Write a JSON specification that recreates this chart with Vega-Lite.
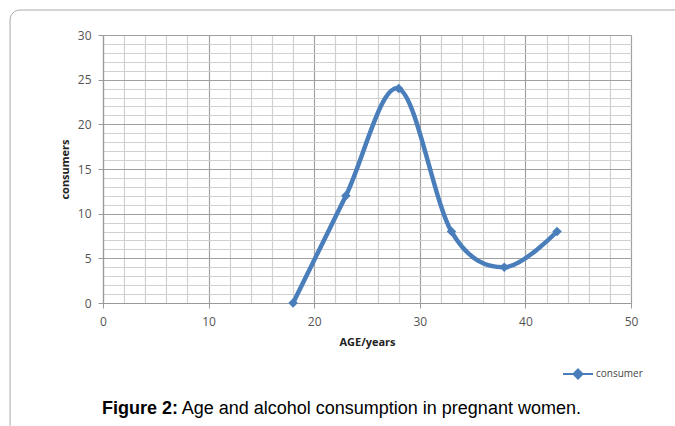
{
  "$schema": "https://vega.github.io/schema/vega-lite/v6.json",
  "autosize": {"type": "none"},
  "width": 528,
  "height": 268,
  "padding": {"left": 103, "top": 35, "right": 44, "bottom": 123},
  "background": "white",
  "config": {"view": {"stroke": null}, "font": "Open Sans"},
  "layer": [
    {
      "data": {"values": [{"frame": 1}]},
      "mark": {"type": "rect", "fill": null, "stroke": "#aaaaaa", "strokeWidth": 1, "cornerRadius": 10, "clip": false},
      "encoding": {
        "x": {"datum": -8.8, "type": "quantitative"},
        "x2": {"datum": 56},
        "y": {"datum": 32.8, "type": "quantitative"},
        "y2": {"datum": -16}
      }
    },
    {
      "data": {"name": "main", "values": [
        {"age": 18, "consumers": 0, "series": "consumer"},
        {"age": 23, "consumers": 12, "series": "consumer"},
        {"age": 28, "consumers": 24, "series": "consumer"},
        {"age": 33, "consumers": 8, "series": "consumer"},
        {"age": 38, "consumers": 4, "series": "consumer"},
        {"age": 43, "consumers": 8, "series": "consumer"}
      ]},
      "layer": [
        {
          "mark": {"type": "line", "interpolate": "cardinal", "tension": 0, "strokeWidth": 4.5, "clip": false},
          "encoding": {
            "x": {"field": "age", "type": "quantitative",
              "scale": {"domain": [0, 50], "nice": false},
              "axis": {
                "title": "AGE/years", "titleFontSize": 11, "titleFontWeight": "bold", "titleColor": "#222", "titlePadding": 9,
                "values": [0,2,4,6,8,10,12,14,16,18,20,22,24,26,28,30,32,34,36,38,40,42,44,46,48,50],
                "tickCount": 200, "format": "d", "labelFlush": false,
                "labelExpr": "datum.value % 10 === 0 ? datum.label : ''",
                "labelFontSize": 12, "labelColor": "#555", "labelPadding": 8,
                "grid": true,
                "gridColor": {"condition": {"test": "datum.value % 10 === 0", "value": "#a0a0a0"}, "value": "#d0d0d0"},
                "gridWidth": 1.2,
                "tickSize": {"condition": {"test": "datum.value % 10 === 0", "value": 5}, "value": 0},
                "tickColor": "#999",
                "domainColor": "#999", "domainWidth": 1.2
              }
            },
            "y": {"field": "consumers", "type": "quantitative",
              "scale": {"domain": [0, 30], "nice": false},
              "axis": {
                "title": "consumers", "titleFontSize": 11, "titleFontWeight": "bold", "titleColor": "#222", "titlePadding": 7,
                "values": [0,1,2,3,4,5,6,7,8,9,10,11,12,13,14,15,16,17,18,19,20,21,22,23,24,25,26,27,28,29,30],
                "tickCount": 200, "format": "d", "labelFlush": false,
                "labelExpr": "datum.value % 5 === 0 ? datum.label : ''",
                "labelFontSize": 12, "labelColor": "#555", "labelPadding": 7,
                "grid": true,
                "gridColor": {"condition": {"test": "datum.value % 5 === 0", "value": "#a0a0a0"}, "value": "#d0d0d0"},
                "gridWidth": 1.2,
                "tickSize": {"condition": {"test": "datum.value % 5 === 0", "value": 5}, "value": 0},
                "tickColor": "#999",
                "domainColor": "#999", "domainWidth": 1.2
              }
            },
            "color": {"field": "series", "type": "nominal",
              "scale": {"range": ["#4A7EBB"]},
              "legend": {
                "title": null, "orient": "none", "legendX": 459, "legendY": 323,
                "symbolType": "M-1,0L1,0M0,-0.3L0.3,0L0,0.3L-0.3,0Z",
                "symbolSize": 900, "symbolStrokeWidth": 2,
                "symbolFillColor": "#4A7EBB", "symbolStrokeColor": "#4A7EBB",
                "labelFontSize": 10, "labelColor": "#444", "labelOffset": 2
              }
            }
          }
        },
        {
          "mark": {"type": "point", "shape": "diamond", "filled": true, "size": 90, "opacity": 1, "clip": false},
          "encoding": {
            "x": {"field": "age", "type": "quantitative"},
            "y": {"field": "consumers", "type": "quantitative"},
            "color": {"field": "series", "type": "nominal"}
          }
        }
      ]
    },
    {
      "data": {"values": [{"caption": "Figure 2:"}]},
      "mark": {"type": "text", "font": "Liberation Sans", "fontSize": 18, "fontWeight": "bold", "align": "right", "baseline": "middle", "color": "#000", "clip": false},
      "encoding": {
        "text": {"field": "caption"},
        "x": {"datum": 7.1, "type": "quantitative"},
        "y": {"datum": -11.87, "type": "quantitative"}
      }
    },
    {
      "data": {"values": [{"caption": "Age and alcohol consumption in pregnant women."}]},
      "mark": {"type": "text", "font": "Liberation Sans", "fontSize": 18, "align": "left", "baseline": "middle", "color": "#000", "clip": false},
      "encoding": {
        "text": {"field": "caption"},
        "x": {"datum": 7.45, "type": "quantitative"},
        "y": {"datum": -11.87, "type": "quantitative"}
      }
    }
  ]
}
